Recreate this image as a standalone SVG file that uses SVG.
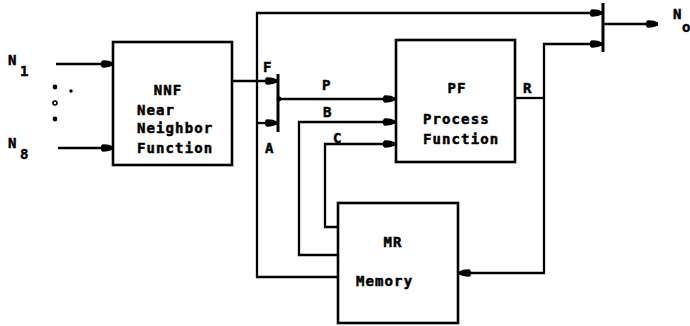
<svg xmlns="http://www.w3.org/2000/svg" width="690" height="326" viewBox="0 0 690 326">
<defs>
<style>
.box{fill:#fff;stroke:#000;stroke-width:2.6}
.ln{fill:none;stroke:#000;stroke-width:2.3;stroke-linejoin:miter}
.bar{fill:none;stroke:#000;stroke-width:3}
.t{font-family:"DejaVu Sans Mono","Liberation Mono",monospace;font-weight:bold;font-size:14px;letter-spacing:1.1px;fill:#000;stroke:#000;stroke-width:0.5}
.lb{font-family:"DejaVu Sans Mono","Liberation Mono",monospace;font-weight:bold;font-size:14px;fill:#000;stroke:#000;stroke-width:0.5}
</style>
<marker id="arr" markerUnits="userSpaceOnUse" markerWidth="18" markerHeight="12" viewBox="-15 -6 17 12" refX="0" refY="0" orient="auto">
<path d="M-11,-3.6 Q-4,-4 0,-1.6 L0,1.6 Q-4,4 -11,3.6 Q-13.5,0 -11,-3.6 Z" fill="#000"/>
</marker>
</defs>
<rect width="690" height="326" fill="#fff"/>

<g id="connectors">
<line class="ln" x1="56" y1="64" x2="113" y2="64" marker-end="url(#arr)"/>
<line class="ln" x1="58" y1="148" x2="113" y2="148" marker-end="url(#arr)"/>
<line class="ln" x1="232" y1="81" x2="277" y2="81" marker-end="url(#arr)"/>
<line class="ln" x1="257" y1="123" x2="277" y2="123" marker-end="url(#arr)"/>
<line class="bar" x1="278" y1="74" x2="278" y2="132"/>
<line class="ln" x1="278" y1="99" x2="395" y2="99" marker-end="url(#arr)"/>
<circle cx="279" cy="99" r="2.4" fill="#000"/>
<polyline class="ln" points="337,255 299,255 299,122 395,122" marker-end="url(#arr)"/>
<polyline class="ln" points="337,227 325,227 325,144 395,144" marker-end="url(#arr)"/>
<polyline class="ln" points="337,277 257,277 257,13 602,13" marker-end="url(#arr)"/>
<line class="ln" x1="515" y1="98" x2="544" y2="98"/>
<polyline class="ln" points="544,98 544,44 602,44" marker-end="url(#arr)"/>
<polyline class="ln" points="544,98 544,273 459,273" marker-end="url(#arr)"/>
<line class="bar" x1="603" y1="3" x2="603" y2="52"/>
<line class="ln" x1="603" y1="24" x2="658" y2="24" marker-end="url(#arr)"/>
</g>

<g id="inputs">
<text class="lb" x="8" y="65">N</text>
<text class="lb" x="20" y="76">1</text>
<text class="lb" x="8" y="148">N</text>
<text class="lb" x="20" y="159">8</text>
<circle cx="55" cy="87" r="2.4" fill="#000"/>
<circle cx="71" cy="91" r="1.7" fill="#000"/>
<circle cx="55" cy="103" r="2" fill="none" stroke="#000" stroke-width="1.6"/>
<circle cx="55" cy="119" r="2.4" fill="#000"/>
</g>

<g id="NNF">
<rect class="box" x="113" y="42" width="119" height="123"/>
<text class="t" x="168" y="95" text-anchor="middle">NNF</text>
<text class="t" x="137" y="115">Near</text>
<text class="t" x="137" y="133">Neighbor</text>
<text class="t" x="137" y="153">Function</text>
</g>

<g id="PF">
<rect class="box" x="396" y="40" width="119" height="122"/>
<text class="t" x="457" y="93" text-anchor="middle">PF</text>
<text class="t" x="423" y="124">Process</text>
<text class="t" x="423" y="144">Function</text>
</g>

<g id="MR">
<rect class="box" x="338" y="203" width="120" height="120"/>
<text class="t" x="393" y="247" text-anchor="middle">MR</text>
<text class="t" x="356" y="286">Memory</text>
</g>

<g id="labels">
<text class="lb" x="263" y="72">F</text>
<text class="lb" x="265" y="153">A</text>
<text class="lb" x="322" y="90">P</text>
<text class="lb" x="323" y="117">B</text>
<text class="lb" x="333" y="143">C</text>
<text class="lb" x="523" y="93">R</text>
<text class="lb" x="673" y="19">N</text>
<text class="lb" x="682" y="32">o</text>
</g>
</svg>
